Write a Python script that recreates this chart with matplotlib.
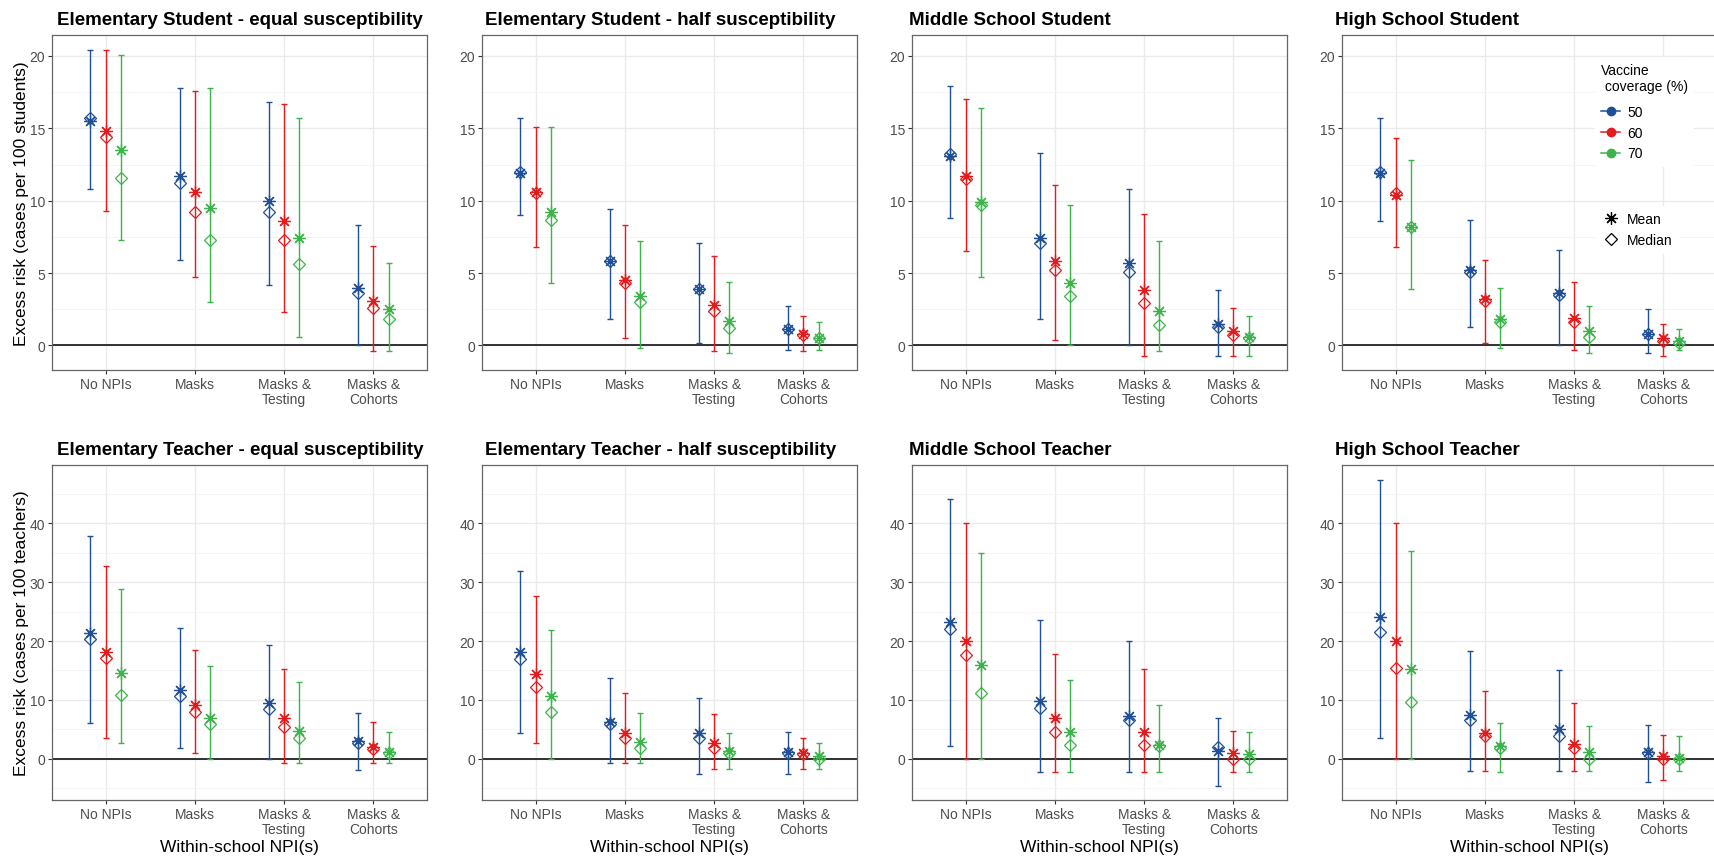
import matplotlib
matplotlib.use("Agg")
import matplotlib.pyplot as plt
from matplotlib.lines import Line2D
import numpy as np

plt.rcParams["font.family"] = ["Liberation Sans", "DejaVu Sans"]

# Within-school interventions and vaccine coverage levels
npis = ["No NPIs", "Masks", "Masks &\nTesting", "Masks &\nCohorts"]
coverage = ["50", "60", "70"]
cov_colors = ["#1f4f96", "#e41a1c", "#3cb44b"]

# Each array: rows = coverage 50/60/70, columns = NPI
es_eq_mean = [[15.5, 11.7, 10.0, 4.0], [14.8, 10.6, 8.6, 3.1], [13.5, 9.5, 7.4, 2.5]]
es_eq_median = [[15.7, 11.2, 9.2, 3.6], [14.4, 9.2, 7.3, 2.6], [11.6, 7.3, 5.6, 1.8]]
es_eq_lo = [[10.8, 5.9, 4.2, 0.0], [9.3, 4.7, 2.3, -0.4], [7.3, 3.0, 0.6, -0.4]]
es_eq_hi = [[20.4, 17.8, 16.8, 8.3], [20.4, 17.6, 16.7, 6.9], [20.1, 17.8, 15.7, 5.7]]

es_half_mean = [[11.9, 5.8, 3.9, 1.1], [10.6, 4.5, 2.8, 0.8], [9.2, 3.4, 1.7, 0.5]]
es_half_median = [[12.0, 5.8, 3.9, 1.1], [10.5, 4.3, 2.4, 0.7], [8.7, 3.0, 1.2, 0.5]]
es_half_lo = [[9.0, 1.8, 0.2, -0.3], [6.8, 0.5, -0.4, -0.4], [4.3, -0.2, -0.5, -0.3]]
es_half_hi = [[15.7, 9.4, 7.1, 2.7], [15.1, 8.3, 6.2, 2.0], [15.1, 7.2, 4.4, 1.6]]

ms_stu_mean = [[13.1, 7.4, 5.7, 1.5], [11.7, 5.8, 3.8, 1.0], [9.9, 4.3, 2.4, 0.6]]
ms_stu_median = [[13.2, 7.1, 5.1, 1.3], [11.5, 5.2, 2.9, 0.7], [9.7, 3.4, 1.4, 0.5]]
ms_stu_lo = [[8.8, 1.8, 0.0, -0.7], [6.5, 0.4, -0.7, -0.7], [4.7, 0.0, -0.4, -0.7]]
ms_stu_hi = [[17.9, 13.3, 10.8, 3.8], [17.0, 11.1, 9.1, 2.6], [16.4, 9.7, 7.2, 2.0]]

hs_stu_mean = [[11.9, 5.2, 3.6, 0.8], [10.4, 3.2, 1.9, 0.5], [8.2, 1.8, 1.0, 0.3]]
hs_stu_median = [[12.0, 5.1, 3.5, 0.8], [10.5, 3.1, 1.6, 0.3], [8.2, 1.6, 0.6, 0.2]]
hs_stu_lo = [[8.6, 1.3, 0.0, -0.5], [6.8, 0.2, -0.3, -0.7], [3.9, -0.2, -0.5, -0.3]]
hs_stu_hi = [[15.7, 8.7, 6.6, 2.5], [14.3, 5.9, 4.4, 1.5], [12.8, 4.0, 2.7, 1.1]]

et_eq_mean = [[21.4, 11.7, 9.4, 3.1], [18.2, 9.2, 7.0, 2.0], [14.6, 6.9, 4.8, 1.2]]
et_eq_median = [[20.4, 10.7, 8.5, 2.6], [17.2, 8.0, 5.4, 1.6], [10.8, 5.9, 3.5, 1.0]]
et_eq_lo = [[6.1, 1.8, 0.0, -1.9], [3.5, 0.9, -0.8, -0.8], [2.6, 0.0, -0.8, -0.8]]
et_eq_hi = [[37.9, 22.2, 19.3, 7.7], [32.8, 18.5, 15.3, 6.2], [28.8, 15.7, 13.0, 4.5]]

et_half_mean = [[18.1, 6.3, 4.4, 1.1], [14.4, 4.4, 2.7, 1.0], [10.7, 2.8, 1.4, 0.4]]
et_half_median = [[17.0, 5.9, 3.5, 1.0], [12.2, 3.5, 1.9, 0.8], [8.0, 1.8, 1.0, 0.0]]
et_half_lo = [[4.3, -0.8, -2.6, -2.6], [2.6, -0.8, -1.8, -1.8], [0.0, -0.8, -1.8, -1.8]]
et_half_hi = [[31.9, 13.8, 10.4, 4.5], [27.7, 11.1, 7.6, 3.6], [21.8, 7.7, 4.3, 2.6]]

ms_tea_mean = [[23.3, 9.8, 7.3, 1.4], [20.0, 6.9, 4.6, 1.0], [16.0, 4.6, 2.3, 0.8]]
ms_tea_median = [[22.0, 8.7, 6.6, 2.0], [17.7, 4.6, 2.4, 0.0], [11.1, 2.4, 2.2, 0.0]]
ms_tea_lo = [[2.2, -2.3, -2.3, -4.7], [0.0, -2.3, -2.3, -2.3], [0.0, -2.3, -2.3, -2.3]]
ms_tea_hi = [[44.2, 23.5, 20.0, 6.9], [40.0, 17.8, 15.3, 4.8], [35.0, 13.4, 9.1, 4.5]]

hs_tea_mean = [[24.1, 7.5, 5.0, 1.1], [20.0, 4.4, 2.5, 0.5], [15.2, 2.2, 1.1, 0.2]]
hs_tea_median = [[21.6, 6.6, 3.9, 0.9], [15.4, 3.8, 1.9, 0.0], [9.6, 1.8, 0.0, 0.0]]
hs_tea_lo = [[3.6, -2.0, -2.0, -4.0], [0.0, -2.0, -2.0, -3.6], [0.0, -2.2, -2.0, -2.0]]
hs_tea_hi = [[47.3, 18.3, 15.1, 5.8], [40.0, 11.5, 9.5, 4.0], [35.3, 6.0, 5.6, 3.8]]

panel_titles = [
    "Elementary Student - equal susceptibility",
    "Elementary Student - half susceptibility",
    "Middle School Student",
    "High School Student",
    "Elementary Teacher - equal susceptibility",
    "Elementary Teacher - half susceptibility",
    "Middle School Teacher",
    "High School Teacher",
]

panels = [
    (es_eq_mean, es_eq_median, es_eq_lo, es_eq_hi),
    (es_half_mean, es_half_median, es_half_lo, es_half_hi),
    (ms_stu_mean, ms_stu_median, ms_stu_lo, ms_stu_hi),
    (hs_stu_mean, hs_stu_median, hs_stu_lo, hs_stu_hi),
    (et_eq_mean, et_eq_median, et_eq_lo, et_eq_hi),
    (et_half_mean, et_half_median, et_half_lo, et_half_hi),
    (ms_tea_mean, ms_tea_median, ms_tea_lo, ms_tea_hi),
    (hs_tea_mean, hs_tea_median, hs_tea_lo, hs_tea_hi),
]

W, H = 1715, 862
fig = plt.figure(figsize=(W / 100, H / 100), dpi=100)
fig.patch.set_facecolor("white")

col_left = [52, 482, 912, 1342]
title_shift = [5, 3, -3, -7]
panel_w = 375
row_top = [36, 466]
panel_h = 335

star = (8, 2, 0)
dodge = [-0.17, 0.0, 0.17]
x = np.arange(1, 5)

for idx, (mean, median, lo, hi) in enumerate(panels):
    r, c = divmod(idx, 4)
    ax = fig.add_axes([col_left[c] / W, 1 - (row_top[r] + panel_h) / H,
                       panel_w / W, panel_h / H])
    ax.set_facecolor("white")
    for k in range(3):
        xs = x + dodge[k]
        m = np.array(mean[k])
        md = np.array(median[k])
        l = np.array(lo[k])
        h = np.array(hi[k])
        ax.errorbar(xs, m, yerr=[m - l, h - m], fmt="none", ecolor=cov_colors[k],
                    elinewidth=1.0, capsize=2.2, capthick=1.0, zorder=3)
        ax.plot(xs, md, linestyle="none", marker="D", markersize=6.2,
                markerfacecolor="none", markeredgecolor=cov_colors[k],
                markeredgewidth=0.9, zorder=4)
        ax.plot(xs, m, linestyle="none", marker=star, markersize=9,
                markeredgecolor=cov_colors[k], markeredgewidth=0.9, zorder=5)
    ax.axhline(0, color="#222222", linewidth=1.3, zorder=2)
    ax.set_xlim(0.4, 4.6)
    ax.set_xticks(x)
    ax.set_xticklabels(npis, fontsize=10, color="#4d4d4d", linespacing=1.1)
    if r == 0:
        ax.set_ylim(-1.7, 21.45)
        ax.set_yticks([0, 5, 10, 15, 20])
        ax.set_yticks([2.5, 7.5, 12.5, 17.5], minor=True)
    else:
        ax.set_ylim(-7.0, 49.9)
        ax.set_yticks([0, 10, 20, 30, 40])
        ax.set_yticks([-5, 5, 15, 25, 35, 45], minor=True)
    ax.tick_params(axis="y", labelsize=10, labelcolor="#4d4d4d")
    ax.tick_params(which="major", length=3, width=0.8, color="#333333", pad=2)
    ax.tick_params(which="minor", length=0)
    ax.grid(True, which="major", color="#ebebeb", linewidth=1.0, zorder=0)
    ax.grid(True, which="minor", axis="y", color="#f3f3f3", linewidth=0.6, zorder=0)
    ax.set_axisbelow(True)
    for s in ax.spines.values():
        s.set_color("#666666")
        s.set_linewidth(0.9)
    ttl = ax.set_title(panel_titles[idx], loc="left", fontsize=13.5,
                       fontweight="bold", pad=8, color="black")
    ttl.set_x(title_shift[c] / panel_w)
    if c == 0:
        ax.set_ylabel("Excess risk (cases per 100 students)" if r == 0
                      else "Excess risk (cases per 100 teachers)",
                      fontsize=12.5, labelpad=0)
    if r == 1:
        ax.set_xlabel("Within-school NPI(s)", fontsize=12.5, labelpad=2)

    if idx == 3:
        cov_handles = [Line2D([0], [0], color=cov_colors[k], marker="o",
                              markersize=6, linewidth=1.1) for k in range(3)]
        leg1 = ax.legend(cov_handles, coverage, title="Vaccine\n coverage (%)",
                         loc="upper left", bbox_to_anchor=(0.655, 0.955),
                         fontsize=10, title_fontsize=10, frameon=True,
                         handlelength=1.4, handletextpad=0.5, labelspacing=0.5,
                         alignment="left", borderpad=0.45)
        leg1._legend_box.sep = 8
        leg1.get_frame().set_facecolor("white")
        leg1.get_frame().set_edgecolor("none")
        leg1.get_frame().set_alpha(1)
        ax.add_artist(leg1)
        stat_handles = [
            Line2D([0], [0], linestyle="none", marker=star, markersize=9,
                   markeredgecolor="black", markeredgewidth=0.9),
            Line2D([0], [0], linestyle="none", marker="D", markersize=6.2,
                   markerfacecolor="none", markeredgecolor="black",
                   markeredgewidth=0.9),
        ]
        leg2 = ax.legend(stat_handles, ["Mean", "Median"], loc="upper left",
                         bbox_to_anchor=(0.655, 0.51), fontsize=10,
                         frameon=True, handlelength=1.4, handletextpad=0.5,
                         labelspacing=0.5, borderpad=0.45)
        leg2.get_frame().set_facecolor("white")
        leg2.get_frame().set_edgecolor("none")
        leg2.get_frame().set_alpha(1)

fig.savefig("out.png", dpi=100, facecolor="white")
